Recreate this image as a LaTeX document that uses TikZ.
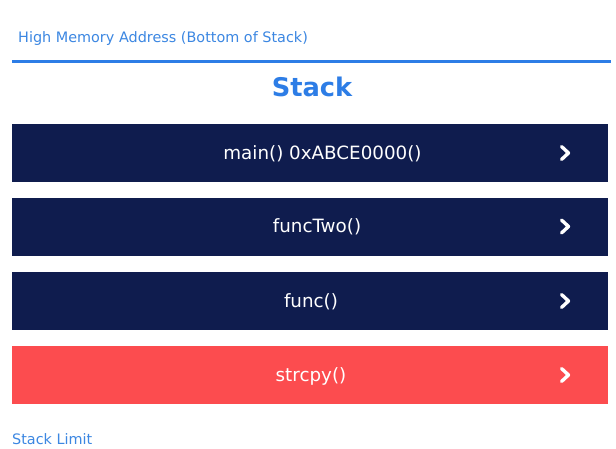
\documentclass[tikz,border=0pt]{standalone}
\usepackage{fontspec}
\setmainfont{DejaVu Sans}
\definecolor{navy}{HTML}{0F1C4E}
\definecolor{alert}{HTML}{FC4C4F}
\definecolor{linkblue}{HTML}{3C87E2}
\definecolor{rule}{HTML}{2D7DE6}
\tikzset{
  frame/.style={fill=navy, draw=none, minimum width=596pt, minimum height=58pt, inner sep=0pt},
  hot/.style={frame, fill=alert},
  label/.style={text=white, font=\fontsize{18.3}{21}\selectfont, inner sep=0pt},
  chev/.style={draw=white, line width=3.4pt, line cap=round, line join=round},
  note/.style={text=linkblue, font=\fontsize{14.4}{16}\selectfont, inner sep=0pt, anchor=west}
}
\begin{document}
\begin{tikzpicture}[x=1pt, y=-1pt]
  \useasboundingbox[fill=white] (0,0) rectangle (616,449);
  % header
  \node[note] (top) at (18,38.5) {High Memory Address (Bottom of Stack)};
  \draw[rule, line width=2.6pt] (12,61.5) coordinate (ra) -- (611,61.5) coordinate (rb);
  \node[text=rule, font=\bfseries\fontsize{25.7}{29}\selectfont, inner sep=0pt] (title) at (312,86.5) {Stack};
  % stack frames
  \node[frame, anchor=north west] (f1) at (12,124) {};
  \node[frame, anchor=north west] (f2) at (12,197.5) {};
  \node[frame, anchor=north west] (f3) at (12,272) {};
  \node[hot, anchor=north west] (f4) at (12,346) {};
  \node[label] (t1) at (322.5,154) {main() 0xABCE0000()};
  \node[label] (t2) at (317,227) {funcTwo()};
  \node[label] (t3) at (311,302) {func()};
  \node[label] (t4) at (311,376) {strcpy()};
  \foreach \n/\y in {1/153,2/226.5,3/301,4/375}{
    \draw[chev] (561.5,\y-6.5) coordinate (c\n a) -- (568.5,\y) coordinate (c\n b) -- (561.5,\y+6.5) coordinate (c\n c);
  }
  % footer
  \node[note] (limit) at (12,439) {Stack Limit};
\end{tikzpicture}
\end{document}
